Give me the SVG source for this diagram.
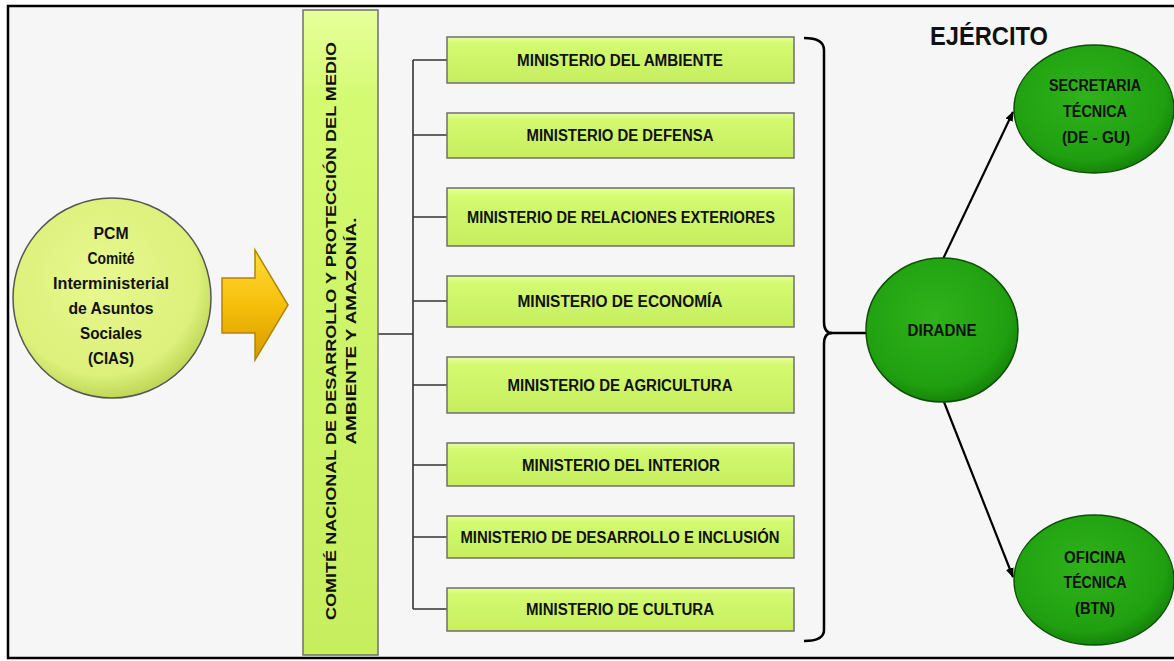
<svg xmlns="http://www.w3.org/2000/svg" width="1174" height="661" viewBox="0 0 1174 661">
<style>
.t{font-family:"Liberation Sans",Arial,sans-serif;font-weight:bold;fill:#111;text-anchor:middle}
.box{fill:url(#gBox);stroke:#6f6f6f;stroke-width:1.5}
.oval{fill:url(#gGreen);stroke:#0d4f06;stroke-width:1.5}
.conn{fill:none;stroke:#333;stroke-width:1.6}
.arr{fill:none;stroke:#000;stroke-width:2.2}
</style>
<defs>
<linearGradient id="gBox" x1="0" y1="0" x2="0" y2="1">
<stop offset="0" stop-color="#e6ff9a"/>
<stop offset="0.15" stop-color="#d3fa70"/>
<stop offset="1" stop-color="#c6ee5f"/>
</linearGradient>
<radialGradient id="gGreen" cx="0.45" cy="0.4" r="0.65">
<stop offset="0" stop-color="#2fb21b"/>
<stop offset="0.75" stop-color="#20a010"/>
<stop offset="1" stop-color="#117a06"/>
</radialGradient>
<radialGradient id="gPcm" cx="0.45" cy="0.4" r="0.65">
<stop offset="0" stop-color="#e8f890"/>
<stop offset="0.75" stop-color="#dcf07a"/>
<stop offset="1" stop-color="#b3cc4a"/>
</radialGradient>
<linearGradient id="gArrow" x1="0" y1="0" x2="0" y2="1">
<stop offset="0" stop-color="#ffdc3a"/>
<stop offset="0.5" stop-color="#f5bf0a"/>
<stop offset="1" stop-color="#d99a00"/>
</linearGradient>
<marker id="ah" markerWidth="10" markerHeight="8" refX="9" refY="4" orient="auto" markerUnits="userSpaceOnUse">
<path d="M0,0 L10,4 L0,8 Z" fill="#000"/>
</marker>
</defs>
<rect x="0" y="0" width="1174" height="661" fill="#ffffff"/>
<rect x="8" y="6" width="1166" height="652" fill="#f6f6f6"/>
<path d="M1174,6 L8,6 L8,658 L1174,658" fill="none" stroke="#000" stroke-width="2.5"/>

<g id="connectors">
<path class="conn" d="M378,334 L413,334 M413,60 L413,609 M413,60 L447,60 M413,135 L447,135 M413,217 L447,217 M413,301 L447,301 M413,385 L447,385 M413,465 L447,465 M413,537 L447,537 M413,609 L447,609"/>
<path d="M804,38 Q824,38 824,50 L824,322 Q824,333 832,333 Q824,333 824,344 L824,630 Q824,641 804,641" fill="none" stroke="#000" stroke-width="2.5"/>
<path d="M830,333 L866,333" fill="none" stroke="#000" stroke-width="2.5"/>
<path class="arr" d="M943,259 L1013,112" marker-end="url(#ah)"/>
<path class="arr" d="M944,402 L1013,577" marker-end="url(#ah)"/>
</g>

<g id="pcm">
<ellipse cx="112" cy="298" rx="99" ry="100" fill="url(#gPcm)" stroke="#555" stroke-width="1.5"/>
<text class="t" font-size="16" x="111" y="239" textLength="35" lengthAdjust="spacingAndGlyphs">PCM</text>
<text class="t" font-size="16" x="111" y="264" textLength="47" lengthAdjust="spacingAndGlyphs">Comité</text>
<text class="t" font-size="16" x="111" y="289" textLength="116" lengthAdjust="spacingAndGlyphs">Interministerial</text>
<text class="t" font-size="16" x="111" y="314" textLength="85" lengthAdjust="spacingAndGlyphs">de Asuntos</text>
<text class="t" font-size="16" x="111" y="339" textLength="62" lengthAdjust="spacingAndGlyphs">Sociales</text>
<text class="t" font-size="16" x="111" y="364" textLength="46" lengthAdjust="spacingAndGlyphs">(CIAS)</text>
</g>

<g id="big-arrow">
<path d="M222,278 L255,278 L255,250 L288,305 L255,360 L255,333 L222,333 Z" fill="url(#gArrow)" stroke="#b38600" stroke-width="1.5"/>
</g>

<g id="comite">
<rect x="303" y="10" width="75" height="645" class="box"/>
<text class="t" font-size="15.5" transform="translate(330.5,331) rotate(-90)" x="0" y="5.5" textLength="578" lengthAdjust="spacingAndGlyphs">COMITÉ NACIONAL DE DESARROLLO  Y PROTECCIÓN DEL MEDIO</text>
<text class="t" font-size="15.5" transform="translate(350,331) rotate(-90)" x="0" y="5.5" textLength="227" lengthAdjust="spacingAndGlyphs">AMBIENTE Y  AMAZONÍA.</text>
</g>

<g id="m1"><rect x="447" y="37" width="347" height="46" class="box"/><text class="t" font-size="16" x="620" y="66" textLength="206" lengthAdjust="spacingAndGlyphs">MINISTERIO DEL AMBIENTE</text></g>
<g id="m2"><rect x="447" y="113" width="347" height="45" class="box"/><text class="t" font-size="16" x="620" y="141" textLength="187" lengthAdjust="spacingAndGlyphs">MINISTERIO DE DEFENSA</text></g>
<g id="m3"><rect x="447" y="188" width="347" height="58" class="box"/><text class="t" font-size="16" x="621" y="223" textLength="308" lengthAdjust="spacingAndGlyphs">MINISTERIO DE RELACIONES EXTERIORES</text></g>
<g id="m4"><rect x="447" y="276" width="347" height="51" class="box"/><text class="t" font-size="16" x="620" y="307" textLength="205" lengthAdjust="spacingAndGlyphs">MINISTERIO DE ECONOMÍA</text></g>
<g id="m5"><rect x="447" y="357" width="347" height="56" class="box"/><text class="t" font-size="16" x="620" y="391" textLength="225" lengthAdjust="spacingAndGlyphs">MINISTERIO DE AGRICULTURA</text></g>
<g id="m6"><rect x="447" y="443" width="347" height="43" class="box"/><text class="t" font-size="16" x="621" y="471" textLength="198" lengthAdjust="spacingAndGlyphs">MINISTERIO DEL INTERIOR</text></g>
<g id="m7"><rect x="447" y="516" width="347" height="42" class="box"/><text class="t" font-size="16" x="620" y="543" textLength="319" lengthAdjust="spacingAndGlyphs">MINISTERIO DE DESARROLLO E INCLUSIÓN</text></g>
<g id="m8"><rect x="447" y="588" width="347" height="43" class="box"/><text class="t" font-size="16" x="620" y="615" textLength="188" lengthAdjust="spacingAndGlyphs">MINISTERIO DE CULTURA</text></g>

<g id="ejercito"><text class="t" font-size="25" x="989" y="45" textLength="118" lengthAdjust="spacingAndGlyphs">EJÉRCITO</text></g>

<g id="diradne">
<ellipse cx="942" cy="330" rx="76" ry="72" class="oval"/>
<text class="t" font-size="16" x="942" y="336" textLength="69" lengthAdjust="spacingAndGlyphs">DIRADNE</text>
</g>

<g id="secretaria">
<ellipse cx="1094" cy="109" rx="80" ry="64" class="oval"/>
<text class="t" font-size="16" x="1095" y="91" textLength="92" lengthAdjust="spacingAndGlyphs">SECRETARIA</text>
<text class="t" font-size="16" x="1095" y="117" textLength="64" lengthAdjust="spacingAndGlyphs">TÉCNICA</text>
<text class="t" font-size="16" x="1096" y="143" textLength="68" lengthAdjust="spacingAndGlyphs">(DE - GU)</text>
</g>

<g id="oficina">
<ellipse cx="1094" cy="580" rx="80" ry="65" class="oval"/>
<text class="t" font-size="16" x="1095" y="563" textLength="62" lengthAdjust="spacingAndGlyphs">OFICINA</text>
<text class="t" font-size="16" x="1095" y="588" textLength="63" lengthAdjust="spacingAndGlyphs">TÉCNICA</text>
<text class="t" font-size="16" x="1095" y="614" textLength="40" lengthAdjust="spacingAndGlyphs">(BTN)</text>
</g>
</svg>
